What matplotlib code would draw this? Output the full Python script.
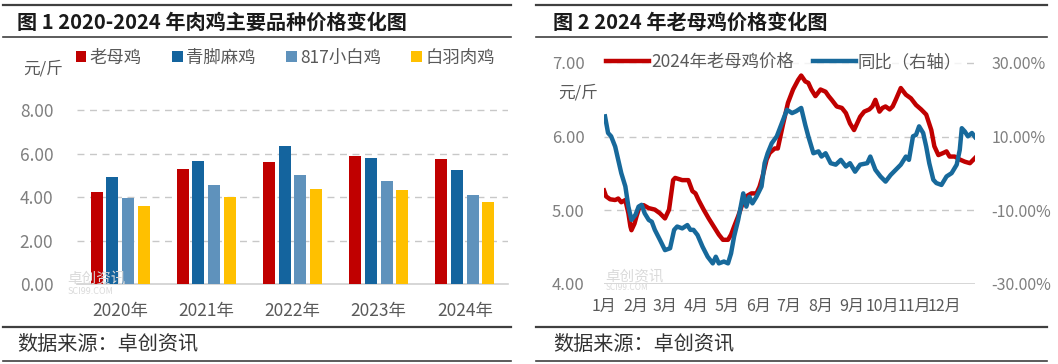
import matplotlib
matplotlib.use('Agg')
import matplotlib.pyplot as plt
from matplotlib.lines import Line2D
from matplotlib.patches import Patch
import numpy as np

plt.rcParams['font.family'] = ['Noto Sans CJK SC', 'DejaVu Sans']

# ---------------- data: figure 1 ----------------
years = ['2020年', '2021年', '2022年', '2023年', '2024年']
laomuji = [4.22, 5.27, 5.62, 5.89, 5.73]
qingjiao = [4.93, 5.64, 6.34, 5.78, 5.26]
xiaobai817 = [3.97, 4.55, 5.03, 4.74, 4.08]
baiyu = [3.60, 4.01, 4.37, 4.31, 3.76]
bar_names = ['老母鸡', '青脚麻鸡', '817小白鸡', '白羽肉鸡']

# ---------------- data: figure 2 (day of year) ----------------
price_days = [0, 2, 6, 11, 14, 17, 21, 24, 26, 27, 30, 32, 35, 39, 44, 50, 55, 60, 64,
              68, 70, 77, 83, 87, 90, 93, 98, 103, 108, 113, 117, 122, 125, 128, 132,
              137, 140, 145, 150, 153, 156, 160, 163, 168, 171, 176, 181, 186, 191, 194,
              198, 201, 204, 208, 213, 218, 221, 224, 229, 234, 238, 242, 246, 249, 252,
              256, 261, 264, 267, 271, 274, 277, 281, 284, 287, 292, 297, 302, 307, 312,
              317, 322, 325, 329, 334, 337, 340, 345, 350, 355, 360, 365]
price_vals = [5.27, 5.19, 5.15, 5.14, 5.16, 5.11, 5.14, 4.96, 4.78, 4.73, 4.82, 4.92, 5.05,
              5.07, 5.03, 5.01, 4.96, 4.89, 5.01, 5.41, 5.44, 5.41, 5.41, 5.26, 5.23, 5.14,
              5.01, 4.89, 4.78, 4.67, 4.60, 4.60, 4.67, 4.78, 4.92, 5.12, 5.19, 5.23, 5.23,
              5.32, 5.46, 5.69, 5.78, 5.84, 5.84, 6.16, 6.46, 6.64, 6.77, 6.83, 6.75, 6.73,
              6.64, 6.55, 6.64, 6.61, 6.55, 6.50, 6.41, 6.39, 6.32, 6.18, 6.09, 6.18, 6.27,
              6.34, 6.37, 6.41, 6.50, 6.34, 6.39, 6.41, 6.37, 6.41, 6.50, 6.66, 6.57, 6.52,
              6.43, 6.37, 6.30, 6.09, 5.87, 5.75, 5.78, 5.80, 5.73, 5.73, 5.69, 5.66, 5.64,
              5.71]

yoy_days = [1, 4, 7, 11, 14, 17, 21, 24, 27, 31, 34, 37, 40, 44, 47, 50, 55, 60, 65, 69,
            72, 77, 82, 85, 88, 92, 97, 102, 107, 110, 113, 118, 122, 125, 128, 132, 137,
            140, 143, 146, 150, 155, 158, 161, 165, 170, 175, 180, 185, 189, 194, 198, 201,
            206, 211, 214, 218, 223, 228, 233, 238, 242, 247, 252, 259, 262, 267, 272, 277,
            282, 287, 292, 297, 300, 304, 307, 310, 314, 317, 320, 324, 327, 332, 337, 342,
            347, 350, 352, 355, 358, 362, 365]
yoy_vals = [15.5, 11.0, 10.1, 7.3, 3.7, 0.1, -3.5, -9.0, -12.6, -11.2, -9.0, -8.5, -10.8,
            -12.6, -13.1, -15.3, -18.0, -20.8, -20.3, -15.3, -14.4, -14.9, -14.0, -15.3,
            -15.3, -16.7, -19.9, -22.6, -24.4, -22.6, -24.4, -23.9, -24.4, -21.7, -17.1,
            -12.6, -5.4, -9.0, -6.3, -8.1, -6.3, -3.5, 2.8, 5.5, 8.2, 10.1, 13.7, 17.3,
            16.4, 16.9, 17.8, 13.2, 10.1, 5.5, 6.0, 4.6, 5.5, 2.8, 2.4, 3.7, 1.9, 2.8, 0.5,
            2.4, 2.8, 4.6, 1.0, -0.8, -2.2, -0.4, 1.0, 2.4, 4.6, 3.7, 10.1, 10.5, 12.8,
            11.0, 7.3, 2.8, -1.7, -2.6, -3.1, -0.8, 0.1, 2.4, 6.4, 12.3, 11.4, 10.1, 11.0,
            9.9]

month_labels = ['1月', '2月', '3月', '4月', '5月', '6月', '7月', '8月', '9月', '10月', '11月', '12月']
month_starts = [0, 31, 60, 91, 121, 152, 182, 213, 244, 274, 305, 335]

# ---------------- figure ----------------
W, H = 1058, 364
fig = plt.figure(figsize=(W / 100, H / 100), dpi=100)
fig.patch.set_facecolor('white')


def fx(px):
    return px / W


def fy(py):
    return 1 - py / H


RED = '#C00000'
DBLUE = '#14649E'
LBLUE = '#5F92BC'
YELLOW = '#FFC000'
GRID = '#C8C8C8'
TICKC = '#7F7F7F'
TEXTC = '#595959'

# horizontal rules, titles, source
for x0, x1 in [(3, 511), (536, 1047)]:
    for yy, lw in [(5, 1.6), (37, 1.2), (327, 1.6), (361, 1.2)]:
        fig.add_artist(Line2D([fx(x0), fx(x1)], [fy(yy), fy(yy)], color='#404040', lw=lw))

fig.text(fx(17), fy(22), '图 1 2020-2024 年肉鸡主要品种价格变化图', fontsize=14.5,
         fontweight='bold', color='#1A1A1A', va='center', ha='left')
fig.text(fx(553), fy(22), '图 2 2024 年老母鸡价格变化图', fontsize=14.5,
         fontweight='bold', color='#1A1A1A', va='center', ha='left')
fig.text(fx(17), fy(345), '数据来源：卓创资讯', fontsize=14.5, color='#333333',
         va='center', ha='left')
fig.text(fx(553), fy(345), '数据来源：卓创资讯', fontsize=14.5, color='#333333',
         va='center', ha='left')

# ---------------- left chart ----------------
ytop1 = 8.3
unit1 = (284 - 110) / 8.0
top_px = 284 - ytop1 * unit1
ax1 = fig.add_axes([fx(77), fy(284), fx(508 - 77), (284 - top_px) / H])
x = np.arange(len(years))
step = 0.182
width = 0.14
series = [laomuji, qingjiao, xiaobai817, baiyu]
colors = [RED, DBLUE, LBLUE, YELLOW]
for i, (vals, c, name) in enumerate(zip(series, colors, bar_names)):
    ax1.bar(x + (i - 1.5) * step, vals, width=width, color=c, label=name, zorder=3)
ax1.set_xlim(-0.5, len(years) - 0.5)
ax1.set_ylim(0, ytop1)
ax1.set_yticks([0, 2, 4, 6, 8])
ax1.set_yticklabels(['0.00', '2.00', '4.00', '6.00', '8.00'])
ax1.set_xticks(x)
ax1.set_xticklabels(years)
for s in ['top', 'right', 'left']:
    ax1.spines[s].set_visible(False)
ax1.spines['bottom'].set_color('#D0D0D0')
ax1.spines['bottom'].set_linewidth(1.2)
ax1.tick_params(axis='both', length=0)
ax1.tick_params(axis='y', labelsize=12.5, labelcolor=TICKC, pad=17)
ax1.tick_params(axis='x', labelsize=12.5, labelcolor=TEXTC, pad=13)
for gy in [2, 4, 6, 8]:
    ax1.axhline(gy, color=GRID, lw=1.0, ls=(0, (5, 4)), zorder=1)
fig.text(fx(23), fy(69), '元/斤', fontsize=12, color=TEXTC, va='center', ha='left')
handles = [Patch(facecolor=c, edgecolor='none') for c in colors]
fig.legend(handles, bar_names, loc='center left', bbox_to_anchor=(fx(76), fy(58)),
           ncol=4, frameon=False, fontsize=12.5, labelcolor=TEXTC,
           handlelength=0.6, handleheight=0.6, handletextpad=0.2, columnspacing=1.75,
           borderaxespad=0, borderpad=0)

# watermark left
fig.text(fx(67), fy(279), '卓创资讯', fontsize=10.5, color='#DADADA', va='center', ha='left', zorder=0)
fig.text(fx(68), fy(291), 'SCI99.COM', fontsize=6.5, color='#DADADA', va='center', ha='left', zorder=0)

# ---------------- right chart ----------------
ytop2 = 7.05
unit2 = (284 - 63) / 3.0
top2_px = 284 - (ytop2 - 4) * unit2
ax2 = fig.add_axes([fx(604), fy(284), fx(975 - 604), (284 - top2_px) / H])
ax2b = ax2.twinx()
ax2.set_xlim(0, 365)
ax2.set_ylim(4, ytop2)
ax2b.set_ylim(-30, -30 + (ytop2 - 4) * 20)
ax2.set_yticks([4, 5, 6, 7])
ax2.set_yticklabels(['4.00', '5.00', '6.00', '7.00'])
ax2b.set_yticks([-30, -10, 10, 30])
ax2b.set_yticklabels(['-30.00%', '-10.00%', '10.00%', '30.00%'])
ax2.set_xticks(month_starts)
ax2.set_xticklabels(month_labels)
for a in (ax2, ax2b):
    for s in ['top', 'right', 'left', 'bottom']:
        a.spines[s].set_visible(False)
    a.tick_params(axis='both', length=0)
ax2.tick_params(axis='y', labelsize=12, labelcolor=TICKC, pad=14)
ax2b.tick_params(axis='y', labelsize=11.5, labelcolor=TICKC, pad=12)
ax2.tick_params(axis='x', labelsize=11.5, labelcolor=TEXTC, pad=10)
for gy in [5, 6, 7]:
    ax2.axhline(gy, color=GRID, lw=1.0, ls=(0, (5, 4)), zorder=1)
ax2.axhline(4, color='#D0D0D0', lw=1.2, zorder=1)

l1, = ax2.plot(price_days, price_vals, color=RED, lw=3.2, solid_joinstyle='round', zorder=3)
l2, = ax2b.plot(yoy_days, yoy_vals, color='#17699B', lw=3.2, solid_joinstyle='round', zorder=3)
ax2b.set_zorder(ax2.get_zorder() + 1)
ax2b.patch.set_visible(False)

fig.text(fx(558), fy(93), '元/斤', fontsize=12, color=TEXTC, va='center', ha='left')
leg = fig.legend([l1, l2], ['2024年老母鸡价格', '同比（右轴）'], loc='center left',
                 bbox_to_anchor=(fx(604), fy(62)), ncol=2, frameon=True, fontsize=12.5,
                 labelcolor=TEXTC, handlelength=2.5, handletextpad=0.1,
                 columnspacing=1.1, borderaxespad=0, borderpad=0.1)
leg.get_frame().set_facecolor('white')
leg.get_frame().set_edgecolor('none')

# watermark right
fig.text(fx(605), fy(277), '卓创资讯', fontsize=10.5, color='#DADADA', va='center', ha='left', zorder=0)
fig.text(fx(606), fy(288), 'SCI99.COM', fontsize=6, color='#DADADA', va='center', ha='left', zorder=0)

fig.savefig('out.png', dpi=100, facecolor='white')
